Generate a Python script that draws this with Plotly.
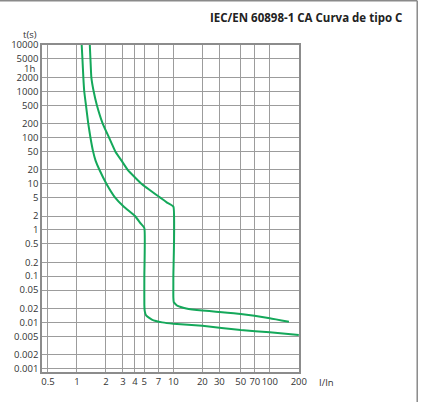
import math
import plotly.graph_objects as go

# curva C, limite inferior (disparo instantaneo a 5 In)
i_low = [1.12, 1.14, 1.165, 1.19, 1.24, 1.31, 1.38, 1.47, 1.56, 1.71, 2.02, 2.49, 3.05, 4.0,
         4.55, 5.0, 5.0, 5.0, 5.05, 5.22, 5.99, 7.66, 10, 20, 50, 100, 200]
t_low = [10000, 5000, 2000, 1000, 500, 200, 100, 50, 31.6, 20, 10, 5, 3.2, 2,
         1.4, 1.1, 0.1, 0.024, 0.0175, 0.0141, 0.0115, 0.01, 0.0093, 0.0084, 0.0068, 0.0061, 0.0053]

# curva C, limite superior (disparo instantaneo a 10 In)
i_up = [1.36, 1.38, 1.41, 1.49, 1.61, 1.85, 2.15, 2.5, 2.9, 3.36, 4.66, 7.3, 8.6,
        10, 10, 10, 10.1, 11.1, 13.6, 20, 30, 50, 100, 158]
t_up = [10000, 5000, 2000, 1000, 500, 200, 100, 50, 31.6, 20, 10, 5, 3.9,
        3.2, 0.1, 0.0345, 0.0273, 0.0226, 0.02, 0.018, 0.0168, 0.0152, 0.0123, 0.0103]

x_ticks = [0.5, 1, 2, 3, 4, 5, 7, 10, 20, 30, 50, 70, 100, 200]
x_labels = ["0.5", "1", "2", "3", "4", "5", "7", "10", "20", "30", "50", "70", "100", "200"]
y_ticks = [10000, 5000, 2000, 1000, 500, 200, 100, 50, 20, 10, 5, 2, 1, 0.5, 0.2, 0.1,
           0.05, 0.02, 0.01, 0.005, 0.002, 0.001]
y_labels = ["10000", "5000", "2000", "1000", "500", "200", "100", "50", "20", "10", "5", "2",
            "1", "0.5", "0.2", "0.1", "0.05", "0.02", "0.01", "0.005", "0.002", "0.001"]

green = "#14a85a"
grid = "#9c9c9c"
font = "Open Sans"

fig = go.Figure()
fig.add_trace(go.Scatter(x=i_low, y=t_low, mode="lines",
                         line=dict(color=green, width=2, shape="spline", smoothing=0.4)))
fig.add_trace(go.Scatter(x=i_up, y=t_up, mode="lines",
                         line=dict(color=green, width=2, shape="spline", smoothing=0.4)))

fig.update_xaxes(type="log", range=[math.log10(0.434), math.log10(201)],
                 tickvals=x_ticks, ticktext=x_labels, ticks="", tickangle=0, automargin=False,
                 showgrid=True, gridcolor=grid, gridwidth=1.3, zeroline=False,
                 showline=True, linecolor="#8c8c8c", linewidth=1.5, mirror=True,
                 tickfont=dict(family=font, size=9.5, color="#333333"))
fig.update_yaxes(type="log", range=[-3.074, 4.001],
                 tickvals=y_ticks, ticktext=y_labels, ticks="", automargin=False,
                 showgrid=True, gridcolor=grid, gridwidth=1.3, zeroline=False,
                 showline=True, linecolor="#8c8c8c", linewidth=1.5, mirror=True,
                 tickfont=dict(family=font, size=9.5, color="#333333"))

fig.add_annotation(text="<b>IEC/EN 60898-1 CA Curva de tipo C</b>", xref="paper", yref="paper",
                   x=1.4086, y=1.0847, xanchor="right", yanchor="middle", showarrow=False,
                   font=dict(family=font, size=11.5, color="#222222"))
fig.add_annotation(text="t(s)", xref="paper", yref="paper", x=-0.0467, y=1.0336,
                   xanchor="center", yanchor="middle", showarrow=False,
                   font=dict(family=font, size=9.5, color="#333333"))
fig.add_annotation(text="I/In", xref="paper", yref="paper", x=1.108, y=-0.0306,
                   xanchor="center", yanchor="middle", showarrow=False,
                   font=dict(family=font, size=9.5, color="#333333"))
fig.add_annotation(text="1h", xref="paper", yref="y", x=-0.018, y=math.log10(3600), yshift=-3,
                   xanchor="right", yanchor="middle", showarrow=False,
                   font=dict(family=font, size=9.5, color="#333333"))

# marco exterior (arriba y a la derecha)
fig.add_shape(type="line", xref="paper", yref="paper", layer="above",
              x0=-0.17, x1=1.46, y0=1.135, y1=1.135,
              line=dict(color="#8a8a8a", width=1.5))
fig.add_shape(type="line", xref="paper", yref="paper", layer="above",
              x0=1.46, x1=1.46, y0=1.135, y1=-0.1,
              line=dict(color="#8a8a8a", width=1.5))

fig.update_layout(width=422, height=402, showlegend=False,
                  margin=dict(l=42, r=123, t=45, b=30),
                  paper_bgcolor="white", plot_bgcolor="white")

# sin margen del body para que la figura empiece en (0, 0)
fig.write_html("out.html", config={"displayModeBar": False},
               post_script="document.body.style.margin='0';")
